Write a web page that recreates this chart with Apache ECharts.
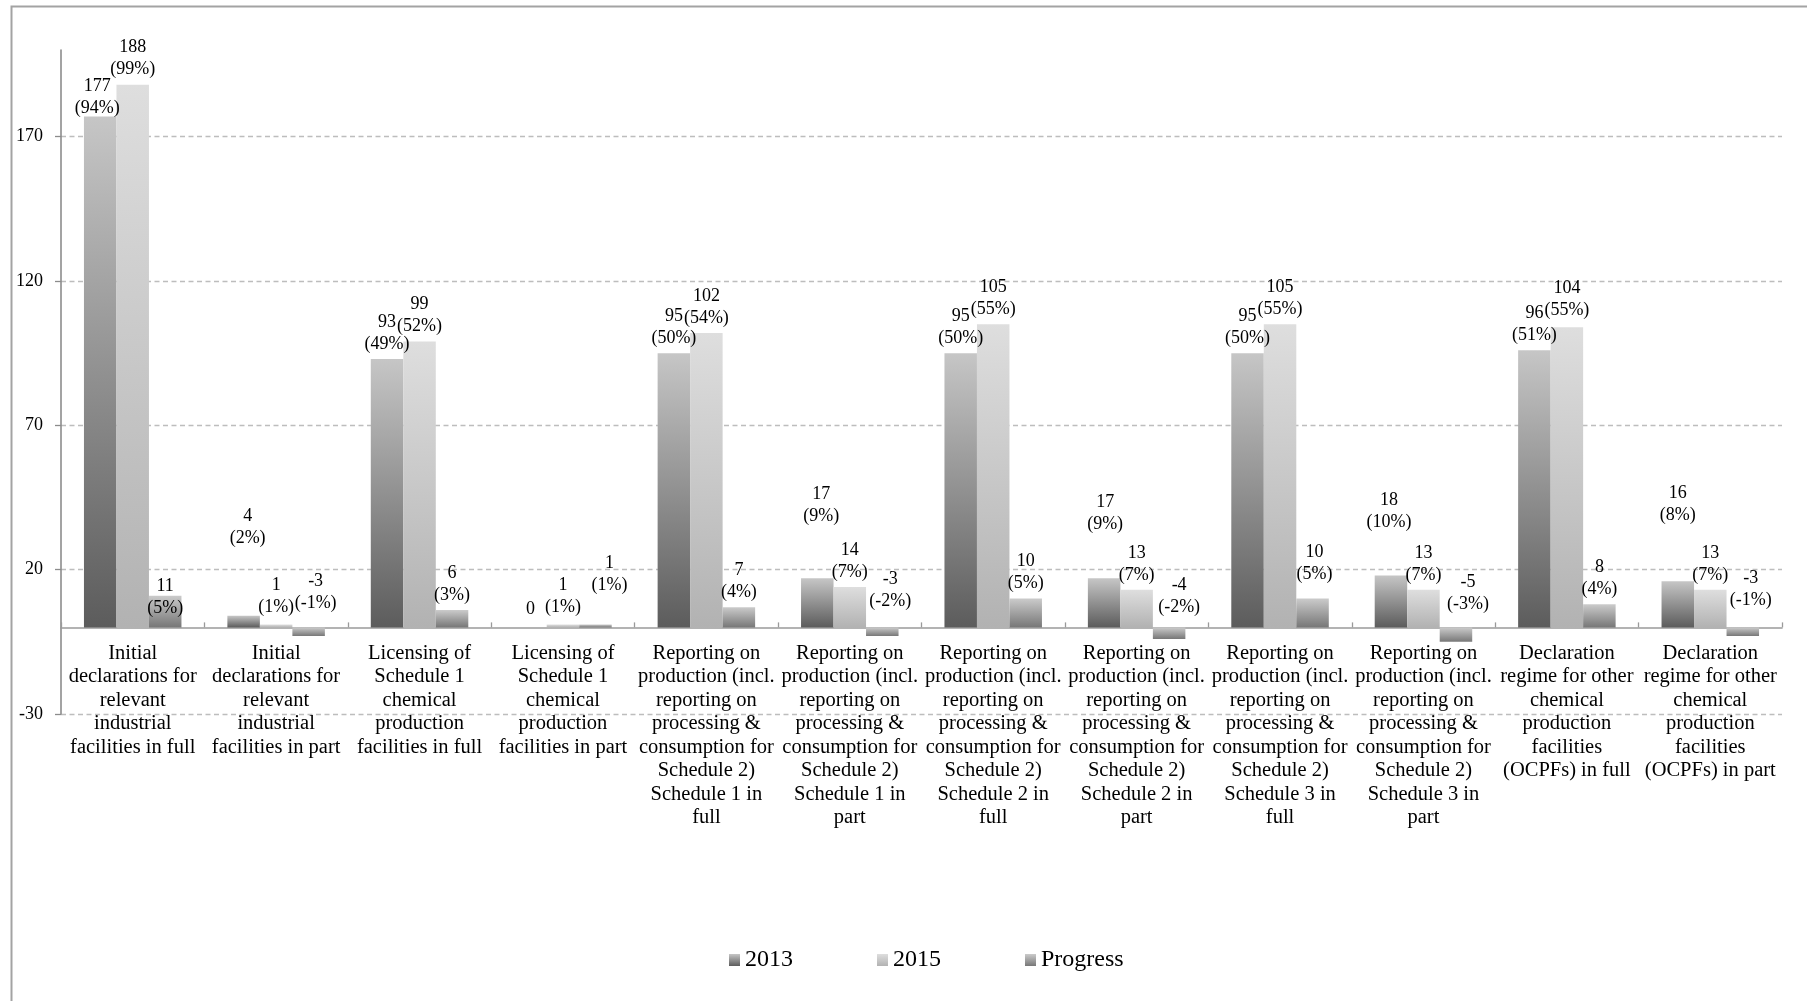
<!DOCTYPE html>
<html>
<head>
<meta charset="utf-8">
<script src="https://cdn.jsdelivr.net/npm/echarts@6/dist/echarts.min.js"></script>
<style>
  html, body { margin: 0; padding: 0; background: #ffffff; }
  #chart { width: 1807px; height: 1001px; }
</style>
</head>
<body>
<div id="chart"></div>
<script>
// Implementation status by obligation (counts of States Parties, share in brackets)
const categories = [
  'Initial\ndeclarations for\nrelevant\nindustrial\nfacilities in full',
  'Initial\ndeclarations for\nrelevant\nindustrial\nfacilities in part',
  'Licensing of\nSchedule 1\nchemical\nproduction\nfacilities in full',
  'Licensing of\nSchedule 1\nchemical\nproduction\nfacilities in part',
  'Reporting on\nproduction (incl.\nreporting on\nprocessing &\nconsumption for\nSchedule 2)\nSchedule 1 in\nfull',
  'Reporting on\nproduction (incl.\nreporting on\nprocessing &\nconsumption for\nSchedule 2)\nSchedule 1 in\npart',
  'Reporting on\nproduction (incl.\nreporting on\nprocessing &\nconsumption for\nSchedule 2)\nSchedule 2 in\nfull',
  'Reporting on\nproduction (incl.\nreporting on\nprocessing &\nconsumption for\nSchedule 2)\nSchedule 2 in\npart',
  'Reporting on\nproduction (incl.\nreporting on\nprocessing &\nconsumption for\nSchedule 2)\nSchedule 3 in\nfull',
  'Reporting on\nproduction (incl.\nreporting on\nprocessing &\nconsumption for\nSchedule 2)\nSchedule 3 in\npart',
  'Declaration\nregime for other\nchemical\nproduction\nfacilities\n(OCPFs) in full',
  'Declaration\nregime for other\nchemical\nproduction\nfacilities\n(OCPFs) in part'
];

const seriesNames = ['2013', '2015', 'Progress'];

const values2013 = [177, 4, 93, 0, 95, 17, 95, 17, 95, 18, 96, 16];
const pct2013    = [94, 2, 49, null, 50, 9, 50, 9, 50, 10, 51, 8];

const values2015 = [188, 1, 99, 1, 102, 14, 105, 13, 105, 13, 104, 13];
const pct2015    = [99, 1, 52, 1, 54, 7, 55, 7, 55, 7, 55, 7];

const valuesProgress = [11, -3, 6, 1, 7, -3, 10, -4, 10, -5, 8, -3];
const pctProgress    = [5, -1, 3, 1, 4, -2, 5, -2, 5, -3, 4, -1];

const yTicks = [-30, 20, 70, 120, 170];
const yMin = -30;
const yMax = 200;

// Hand-placed data label nudges [dx, dy] relative to the default "top" placement
const nudge2013 = [[-3, 7], [4, -63], [0, 0], [0, -3], [0, 0], [4, -47], [0, 0], [1, -39], [0, 0], [-2, -38], [0, 0], [0, -51]];
const nudge2015 = [[0, 0], [0, -2], [0, 0], [0, -2], [0, 0], [0, 0], [0, 0], [0, 0], [0, 0], [0, 0], [0, -2], [0, 0]];
const nudgeProgress = [[0, 28], [7, -9], [0, 0], [14, -24], [0, 0], [8, -11], [0, 0], [10, -5], [2, -9], [12, -8], [0, 0], [8, -12]];

const FONT = '"Liberation Serif", "Times New Roman", serif';

// Plot area geometry
const CHART_H = 1001;
const GRID_TOP = 50;
const GRID_BOTTOM = 287;
const plotH = CHART_H - GRID_TOP - GRID_BOTTOM;
// category axis sits on the zero line, labels hang below it
const zeroFromBottom = plotH * (0 - yMin) / (yMax - yMin);

function vGradient(top, bottom) {
  return {
    type: 'linear', x: 0, y: 0, x2: 0, y2: 1,
    colorStops: [{ offset: 0, color: top }, { offset: 1, color: bottom }]
  };
}

const fills = [
  vGradient('#c6c6c6', '#5c5c5c'),
  vGradient('#dedede', '#b2b2b2'),
  vGradient('#cbcbcb', '#777777')
];

function labelText(pcts) {
  return function (p) {
    const pc = pcts[p.dataIndex];
    return pc === null ? String(p.value) : p.value + '\n(' + pc + '%)';
  };
}

const labelBase = {
  show: true,
  position: 'top',
  distance: 4,
  fontFamily: FONT,
  fontSize: 18,
  lineHeight: 22,
  color: '#000000',
  align: 'center'
};

function barSeries(name, values, pcts, nudges, fill) {
  return {
    name: name,
    type: 'bar',
    barWidth: 32.5,
    barGap: '0%',
    itemStyle: { color: fill },
    label: Object.assign({}, labelBase, { formatter: labelText(pcts) }),
    labelLayout: function (p) {
      const n = nudges[p.dataIndex] || [0, 0];
      return { dx: n[0], dy: n[1], hideOverlap: false };
    },
    emphasis: { disabled: true },
    data: values
  };
}

const chart = echarts.init(document.getElementById('chart'), null, { renderer: 'canvas' });

chart.setOption({
  animation: false,
  backgroundColor: '#ffffff',
  graphic: [{
    type: 'rect',
    left: 9, top: 4,
    shape: { width: 2200, height: 1400 },
    style: { fill: 'none', stroke: '#a3a3a3', lineWidth: 2 },
    silent: true
  }],
  grid: { left: 61, right: 25, top: GRID_TOP, bottom: GRID_BOTTOM, containLabel: false },
  legend: {
    data: seriesNames,
    left: 724,
    top: 943,
    icon: 'rect',
    itemWidth: 11,
    itemHeight: 12,
    itemGap: 84,
    textStyle: { fontFamily: FONT, fontSize: 24, color: '#000000' },
    selectedMode: false
  },
  xAxis: {
    type: 'category',
    data: categories,
    offset: -zeroFromBottom,
    axisLine: { show: true, onZero: false, lineStyle: { color: '#9a9a9a', width: 1.6 } },
    axisTick: { show: true, inside: true, length: 5, alignWithLabel: false, lineStyle: { color: '#9a9a9a', width: 1.3 } },
    axisLabel: {
      interval: 0,
      margin: 14,
      fontFamily: FONT,
      fontSize: 20.5,
      lineHeight: 23.5,
      color: '#000000',
      align: 'center'
    },
    splitLine: { show: false }
  },
  yAxis: {
    type: 'value',
    min: yMin,
    max: yMax,
    interval: 50,
    axisLine: { show: true, lineStyle: { color: '#8c8c8c', width: 1.6 } },
    axisTick: { show: true, inside: false, length: 6, customValues: yTicks, lineStyle: { color: '#8c8c8c', width: 1.3 } },
    axisLabel: {
      customValues: yTicks,
      margin: 18,
      fontFamily: FONT,
      fontSize: 18,
      color: '#000000'
    },
    splitLine: {
      show: true,
      lineStyle: { color: '#bdbdbd', type: [5, 3.5], width: 1.3 }
    }
  },
  series: [
    barSeries(seriesNames[0], values2013, pct2013, nudge2013, fills[0]),
    barSeries(seriesNames[1], values2015, pct2015, nudge2015, fills[1]),
    barSeries(seriesNames[2], valuesProgress, pctProgress, nudgeProgress, fills[2])
  ]
});
</script>
</body>
</html>
